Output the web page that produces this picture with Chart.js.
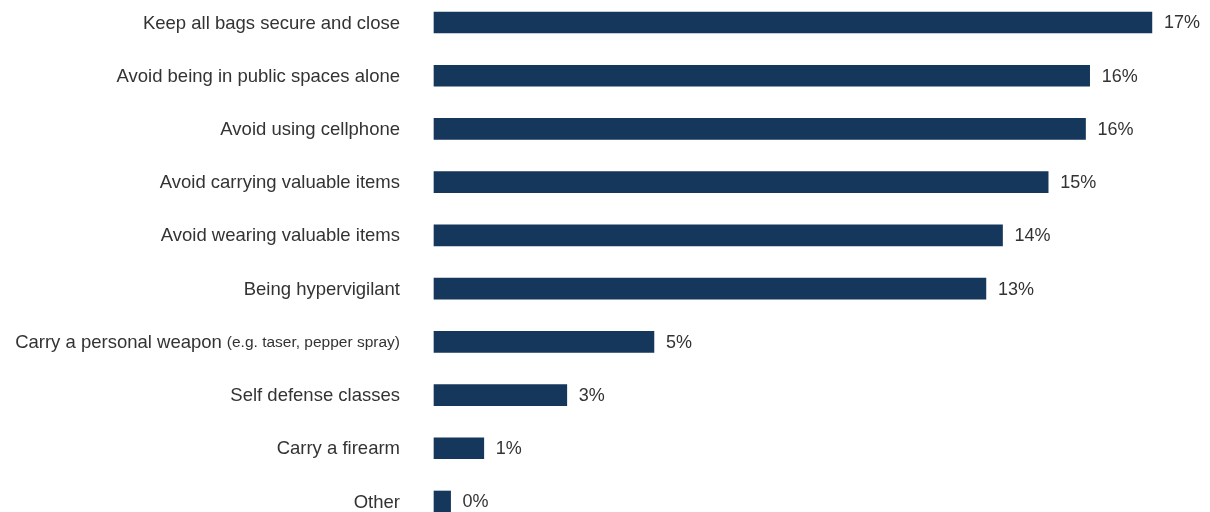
<!DOCTYPE html>
<html>
<head>
<meta charset="utf-8">
<script src="https://cdn.jsdelivr.net/npm/chart.js@4"></script>
<style>
  html, body { margin: 0; padding: 0; background: #fff; }
  #wrap { width: 1210px; height: 512px; }
</style>
</head>
<body>
<div id="wrap"><canvas id="safetyChart"></canvas></div>
<script>
// Precautions taken, share of respondents (%)
const categories = [
    'Keep all bags secure and close',
    'Avoid being in public spaces alone',
    'Avoid using cellphone',
    'Avoid carrying valuable items',
    'Avoid wearing valuable items',
    'Being hypervigilant',
    'Carry a personal weapon',
    'Self defense classes',
    'Carry a firearm',
    'Other'
];
// small print after some category names
const notes = ['', '', '', '', '', '', '(e.g. taser, pepper spray)', '', '', ''];
const shares = [17.3, 15.8, 15.7, 14.8, 13.7, 13.3, 5.3, 3.2, 1.2, 0.4];

const barColor = '#15375b';
const textColor = '#333333';
const fontFamily = 'Helvetica, Arial, "Liberation Sans", sans-serif';

// draws the category names and the % labels
const labelPlugin = {
    id: 'labels',
    afterDatasetsDraw(chart) {
        const ctx = chart.ctx;
        const yScale = chart.scales.y;
        const meta = chart.getDatasetMeta(0);
        ctx.save();
        ctx.fillStyle = textColor;
        ctx.textBaseline = 'middle';

        categories.forEach((name, i) => {
            const y = yScale.getPixelForTick(i) + 1;
            let x = 400;
            ctx.textAlign = 'right';
            if (notes[i]) {
                ctx.font = '15.5px ' + fontFamily;
                ctx.fillText(notes[i], x, y);
                x -= ctx.measureText(notes[i]).width + 5;
            }
            ctx.font = '18.5px ' + fontFamily;
            ctx.fillText(name, x, y);
        });

        meta.data.forEach((bar, i) => {
            ctx.textAlign = 'left';
            ctx.font = '18px ' + fontFamily;
            ctx.fillText(Math.round(shares[i]) + '%', bar.x + 12, bar.y + 1);
        });
        ctx.restore();
    }
};

const ctx = document.getElementById('safetyChart').getContext('2d');
const safetyChart = new Chart(ctx, {
    type: 'bar',
    data: {
        labels: categories,
        datasets: [{
            data: shares,
            backgroundColor: barColor,
            borderWidth: 0,
            barThickness: 21,
            clip: false
        }]
    },
    options: {
        indexAxis: 'y',
        responsive: true,
        maintainAspectRatio: false,
        animation: false,
        layout: {
            padding: { left: 434, right: 0, top: 22.5, bottom: 10.5 }
        },
        plugins: {
            legend: { display: false },
            tooltip: { enabled: false }
        },
        scales: {
            x: {
                display: false,
                min: 0,
                max: 18.7
            },
            y: {
                display: false,
                offset: false,
                grid: { offset: false }
            }
        }
    },
    plugins: [labelPlugin]
});
</script>
</body>
</html>
